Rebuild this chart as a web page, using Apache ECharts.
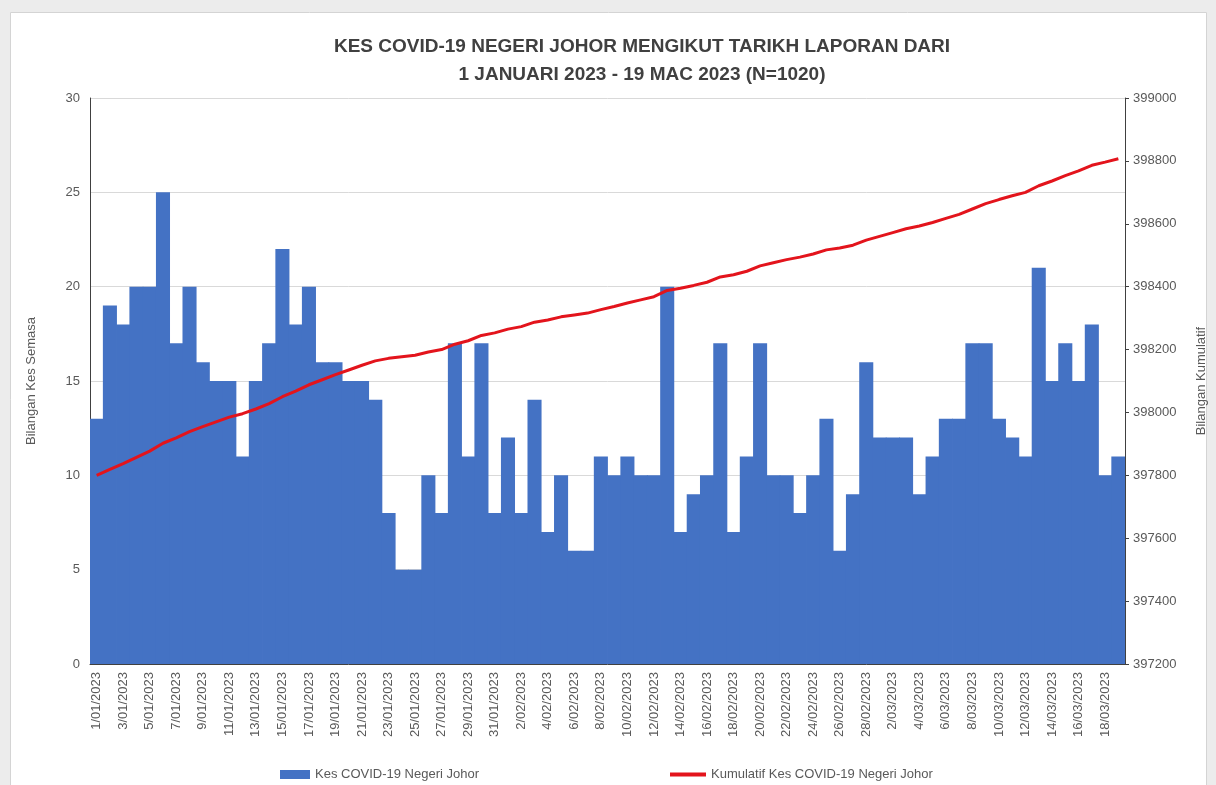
<!DOCTYPE html>
<html>
<head>
<meta charset="utf-8">
<script src="https://cdn.jsdelivr.net/npm/echarts@6/dist/echarts.min.js"></script>
<style>
  html, body { margin: 0; padding: 0; background: #ececec; }
  #chart { width: 1216px; height: 785px; }
</style>
</head>
<body>
<div id="chart"></div>
<script>
// daily dates, 1 Jan - 19 Mar 2023
const dates = [
  '1/01/2023','2/01/2023','3/01/2023','4/01/2023','5/01/2023','6/01/2023','7/01/2023','8/01/2023','9/01/2023','10/01/2023',
  '11/01/2023','12/01/2023','13/01/2023','14/01/2023','15/01/2023','16/01/2023','17/01/2023','18/01/2023','19/01/2023','20/01/2023',
  '21/01/2023','22/01/2023','23/01/2023','24/01/2023','25/01/2023','26/01/2023','27/01/2023','28/01/2023','29/01/2023','30/01/2023',
  '31/01/2023','1/02/2023','2/02/2023','3/02/2023','4/02/2023','5/02/2023','6/02/2023','7/02/2023','8/02/2023','9/02/2023',
  '10/02/2023','11/02/2023','12/02/2023','13/02/2023','14/02/2023','15/02/2023','16/02/2023','17/02/2023','18/02/2023','19/02/2023',
  '20/02/2023','21/02/2023','22/02/2023','23/02/2023','24/02/2023','25/02/2023','26/02/2023','27/02/2023','28/02/2023','1/03/2023',
  '2/03/2023','3/03/2023','4/03/2023','5/03/2023','6/03/2023','7/03/2023','8/03/2023','9/03/2023','10/03/2023','11/03/2023',
  '12/03/2023','13/03/2023','14/03/2023','15/03/2023','16/03/2023','17/03/2023','18/03/2023','19/03/2023'
];

// Kes COVID-19 Negeri Johor (daily)
const dailyCases = [
  13, 19, 18, 20, 20, 25, 17, 20, 16, 15,
  15, 11, 15, 17, 22, 18, 20, 16, 16, 15,
  15, 14, 8, 5, 5, 10, 8, 17, 11, 17,
  8, 12, 8, 14, 7, 10, 6, 6, 11, 10,
  11, 10, 10, 20, 7, 9, 10, 17, 7, 11,
  17, 10, 10, 8, 10, 13, 6, 9, 16, 12,
  12, 12, 9, 11, 13, 13, 17, 17, 13, 12,
  11, 21, 15, 17, 15, 18, 10, 11
];

// Kumulatif Kes COVID-19 Negeri Johor
const cumulative = [
  397800, 397819, 397837, 397857, 397877, 397902, 397919, 397939, 397955, 397970,
  397985, 397996, 398011, 398028, 398050, 398068, 398088, 398104, 398120, 398135,
  398150, 398164, 398172, 398177, 398182, 398192, 398200, 398217, 398228, 398245,
  398253, 398265, 398273, 398287, 398294, 398304, 398310, 398316, 398327, 398337,
  398348, 398358, 398368, 398388, 398395, 398404, 398414, 398431, 398438, 398449,
  398466, 398476, 398486, 398494, 398504, 398517, 398523, 398532, 398548, 398560,
  398572, 398584, 398593, 398604, 398617, 398630, 398647, 398664, 398677, 398689,
  398700, 398721, 398736, 398753, 398768, 398786, 398796, 398807
];

const chart = echarts.init(document.getElementById('chart'));
const font = "'Liberation Sans', sans-serif";
const grey = '#595959';

const option = {
  animation: false,
  backgroundColor: 'transparent',
  textStyle: { fontFamily: font },
  graphic: [{
    type: 'rect',
    left: 10, top: 12,
    shape: { width: 1196, height: 790 },
    style: { fill: '#ffffff', stroke: '#d4d4d4', lineWidth: 1 },
    z: -10
  }],
  title: {
    text: 'KES COVID-19 NEGERI JOHOR MENGIKUT TARIKH LAPORAN DARI\n1 JANUARI 2023 - 19 MAC 2023 (N=1020)',
    left: 637,
    top: 28,
    textAlign: 'center',
    textStyle: { fontFamily: font, fontSize: 19, fontWeight: 'bold', color: '#404040', lineHeight: 28 }
  },
  legend: [{
    left: 275, top: 763,
    itemWidth: 30, itemHeight: 9,
    textStyle: { color: grey, fontSize: 13 },
    data: [{ name: 'Kes COVID-19 Negeri Johor', icon: 'rect' }]
  }, {
    left: 665, top: 763,
    itemWidth: 36, itemHeight: 4,
    textStyle: { color: grey, fontSize: 13 },
    data: [{ name: 'Kumulatif Kes COVID-19 Negeri Johor', icon: 'rect' }]
  }],
  grid: { left: 90, right: 91, top: 98, height: 566 },
  xAxis: {
    type: 'category',
    data: dates,
    boundaryGap: true,
    axisLine: { lineStyle: { color: '#404040', width: 1 } },
    axisTick: { interval: 1, length: 5, lineStyle: { color: '#404040' } },
    axisLabel: { interval: 1, rotate: 90, color: grey, fontSize: 13, margin: 8 }
  },
  yAxis: [{
    type: 'value',
    min: 0, max: 30, interval: 5,
    name: 'Bilangan Kes Semasa',
    nameLocation: 'middle',
    nameGap: 52,
    nameTextStyle: { color: grey, fontSize: 13 },
    axisLine: { show: true, lineStyle: { color: '#404040' } },
    axisTick: { show: false },
    axisLabel: { color: grey, fontSize: 13, margin: 10 },
    splitLine: { lineStyle: { color: '#d9d9d9' } }
  }, {
    type: 'value',
    min: 397200, max: 399000, interval: 200,
    name: 'Bilangan Kumulatif',
    nameLocation: 'middle',
    nameGap: 70,
    nameTextStyle: { color: grey, fontSize: 13 },
    axisLine: { show: true, lineStyle: { color: '#404040' } },
    axisTick: { show: true, length: 4, lineStyle: { color: '#404040' } },
    axisLabel: { color: grey, fontSize: 13, margin: 8, formatter: v => String(v) },
    splitLine: { show: false }
  }],
  series: [{
    name: 'Kes COVID-19 Negeri Johor',
    type: 'bar',
    data: dailyCases,
    barWidth: '106%',
    itemStyle: { color: '#4472c4' }
  }, {
    name: 'Kumulatif Kes COVID-19 Negeri Johor',
    type: 'line',
    yAxisIndex: 1,
    data: cumulative,
    showSymbol: false,
    symbol: 'none',
    lineStyle: { color: '#e3141c', width: 3 },
    itemStyle: { color: '#e3141c' }
  }]
};

chart.setOption(option);
</script>
</body>
</html>
